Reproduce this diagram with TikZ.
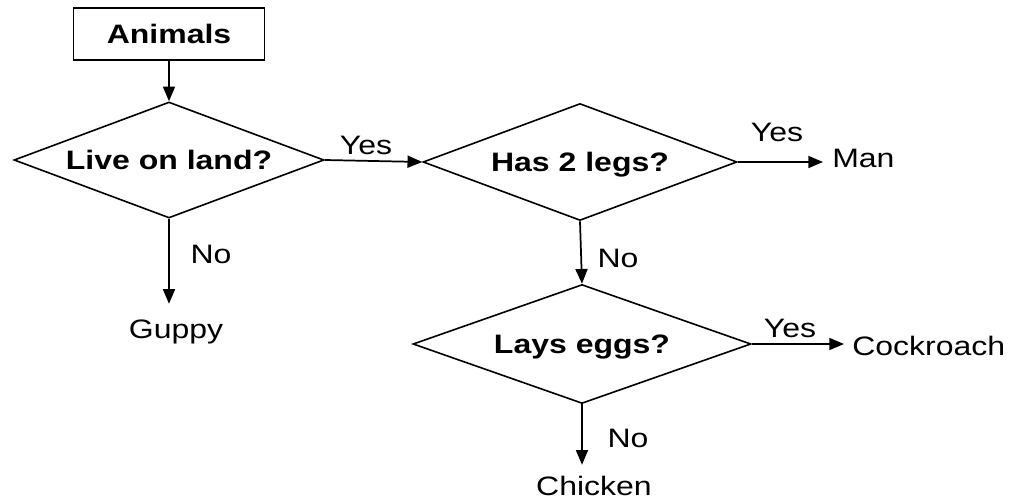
\documentclass[tikz,border=0pt]{standalone}
\usepackage{fontspec}
\setmainfont{Liberation Sans}
\usepackage{graphicx}
\usetikzlibrary{shapes.geometric,arrows.meta}
\newcommand{\wide}[1]{\scalebox{1.2}[1]{#1}}
\begin{document}
\begin{tikzpicture}[x=0.75pt,y=-0.75pt,
  every node/.style={font=\fontsize{20}{24}\selectfont},
  startbox/.style={draw,line width=1.2pt,minimum width=143pt,minimum height=39pt,inner sep=0pt,font=\fontsize{20}{24}\selectfont\bfseries},
  decision/.style={draw,diamond,line width=1.2pt,inner sep=0pt,text height=14.5pt,text depth=0pt,font=\fontsize{20}{24}\selectfont\bfseries},
  lbl/.style={inner sep=0pt,anchor=base},
  outcome/.style={inner sep=0pt,anchor=base},
  conn/.style={line width=1.3pt,-{Triangle[length=11pt,width=9pt]}}
]
\useasboundingbox (0,0) rectangle (1011,503);

\node[startbox] (animals) at (169,34) {\wide{Animals}};
\node[decision,minimum width=232.5pt,minimum height=87pt,aspect=2.67] (d1) at (169,160) {\wide{Live on land?}};
\node[decision,minimum width=235.5pt,minimum height=87.75pt,aspect=2.68] (d2) at (580,162) {\wide{Has 2 legs?}};
\node[decision,minimum width=253.5pt,minimum height=89.25pt,aspect=2.84] (d3) at (582,344) {\wide{Lays eggs?}};

\node[outcome,anchor=base west,inner xsep=6.75pt] (man) at (823,167) {\wide{Man}};
\node[outcome,anchor=base west,inner xsep=6pt] (cock) at (844,355) {\wide{Cockroach}};
\node[outcome,inner ysep=11.5pt] (guppy) at (176,338) {\wide{Guppy}};
\node[outcome,inner ysep=8pt] (chicken) at (594,495) {\wide{Chicken}};

\node[lbl] (yes1) at (366,154) {\wide{Yes}};
\node[lbl] (yes2) at (777,142) {\wide{Yes}};
\node[lbl] (yes3) at (790,337) {\wide{Yes}};
\node[lbl] (no1) at (211,263) {\wide{No}};
\node[lbl] (no2) at (618,267) {\wide{No}};
\node[lbl] (no3) at (628,447) {\wide{No}};

\draw[conn] (animals.south) -- (d1.north);
\draw[conn] (d1.east) -- (d2.west);
\draw[conn] (d2.east) -- (d2.east -| man.west);
\draw[conn] (d1.south) -- (d1.south |- guppy.north);
\draw[conn] (d2.south) -- (d3.north);
\draw[conn] (d3.east) -- (d3.east -| cock.west);
\draw[conn] (d3.south) -- (d3.south |- chicken.north);
\end{tikzpicture}
\end{document}
